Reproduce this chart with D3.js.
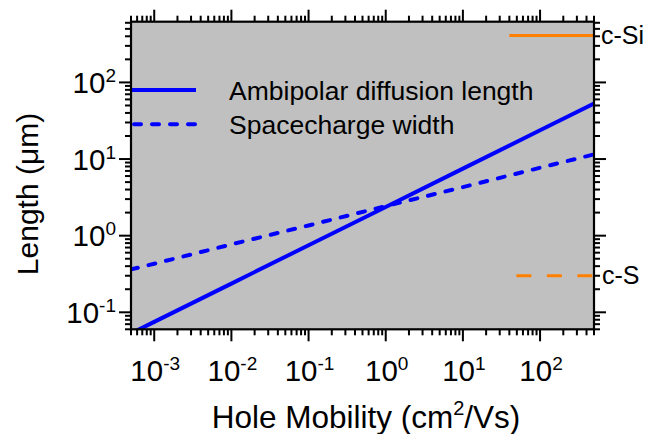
<!DOCTYPE html>
<html>
<head>
<meta charset="utf-8">
<script src="https://cdn.jsdelivr.net/npm/d3@7"></script>
<style>
  html, body { margin: 0; padding: 0; background: #fff; }
  svg { display: block; font-family: "Liberation Sans", Arial, Helvetica, sans-serif; }
</style>
</head>
<body>
<svg id="chart" width="647" height="434"></svg>
<script>
// ---- data ----
const mobility = [5e-4, 1e-3, 1e-2, 1e-1, 1, 10, 100, 500];          // cm^2/Vs
const ambipolarLength = [0.053, 0.075, 0.237, 0.75, 2.37, 7.5, 23.7, 53]; // µm
const spacechargeWidth = [0.363, 0.43, 0.77, 1.36, 2.43, 4.3, 7.7, 11.5]; // µm
const cSiMobility = [40, 500];
const cSiDiffusionLength = [410, 410];
const cSiSpacechargeWidth = [0.3, 0.3];
const xTickExponents = [-3, -2, -1, 0, 1, 2];
const yTickExponents = [-1, 0, 1, 2];
const legendLabels = ["Ambipolar diffusion length", "Spacecharge width"];
const refLabels = ["c-Si", "c-S"];

// ---- layout ----
const svg = d3.select("#chart");
const L = 131, R = 594, T = 21.7, B = 329.3;
const x = d3.scaleLog().domain([5e-4, 500]).range([L, R]);
const y = d3.scaleLog().domain([0.06, 620]).range([B, T]);
const blue = "#0000ff", orange = "#ff8000";

svg.append("rect").attr("x", L).attr("y", T).attr("width", R - L).attr("height", B - T)
  .attr("fill", "#c0c0c0");

svg.append("defs").append("clipPath").attr("id", "clip")
  .append("rect").attr("x", L).attr("y", T).attr("width", R - L).attr("height", B - T);

const plot = svg.append("g").attr("clip-path", "url(#clip)");

const line = d3.line().x(d => x(d[0])).y(d => y(d[1]));

plot.append("path").datum(mobility.map((m, i) => [m, ambipolarLength[i]]))
  .attr("d", line).attr("fill", "none").attr("stroke", blue).attr("stroke-width", 4);
plot.append("path").datum(mobility.map((m, i) => [m, spacechargeWidth[i]]))
  .attr("d", line).attr("fill", "none").attr("stroke", blue).attr("stroke-width", 4)
  .attr("stroke-linecap", "round").attr("stroke-dasharray", "7,11");

plot.append("path").datum(cSiMobility.map((m, i) => [m, cSiDiffusionLength[i]]))
  .attr("d", line).attr("fill", "none").attr("stroke", orange).attr("stroke-width", 3);
plot.append("path").datum(cSiMobility.map((m, i) => [m, cSiSpacechargeWidth[i]]))
  .attr("d", line).attr("fill", "none").attr("stroke", orange).attr("stroke-width", 3)
  .attr("stroke-dasharray", "15,15.5").attr("stroke-dashoffset", 23.5);

// ---- legend ----
const legY = [90, 124.3];
legendLabels.forEach((lab, i) => {
  svg.append("line").attr("x1", L + 1).attr("x2", 196).attr("y1", legY[i]).attr("y2", legY[i])
    .attr("stroke", blue).attr("stroke-width", 4)
    .attr("stroke-linecap", i ? "round" : "butt")
    .attr("stroke-dasharray", i ? "7,11" : null)
    .attr("stroke-dashoffset", i ? -2 : null);
  svg.append("text").attr("x", 229).attr("y", legY[i] + 9.5)
    .attr("font-size", 26.5).attr("fill", "#000").text(lab);
});

// ---- ticks ----
function minorTicks(scale) {
  const [a, b] = scale.domain();
  const out = [];
  for (let e = Math.floor(Math.log10(a)); e <= Math.ceil(Math.log10(b)); e++) {
    for (let k = 1; k <= 9; k++) {
      const v = k * Math.pow(10, e);
      if (v >= a * 0.999 && v <= b * 1.001) out.push({ v, major: k === 1 });
    }
  }
  return out;
}
const axisG = svg.append("g").attr("stroke", "#000").attr("stroke-width", 2);
minorTicks(x).forEach(t => {
  const px = x(t.v), len = t.major ? 12 : 6;
  axisG.append("line").attr("x1", px).attr("x2", px).attr("y1", B).attr("y2", B + len);
  axisG.append("line").attr("x1", px).attr("x2", px).attr("y1", T).attr("y2", T - len);
});
minorTicks(y).forEach(t => {
  const py = y(t.v), len = t.major ? 12 : 6;
  axisG.append("line").attr("y1", py).attr("y2", py).attr("x1", L).attr("x2", L - len);
  axisG.append("line").attr("y1", py).attr("y2", py).attr("x1", R).attr("x2", R + len);
});
svg.append("rect").attr("x", L).attr("y", T).attr("width", R - L).attr("height", B - T)
  .attr("fill", "none").attr("stroke", "#000").attr("stroke-width", 2.2);

// ---- tick labels ----
xTickExponents.forEach(e => {
  const t = svg.append("text").attr("x", x(Math.pow(10, e)) + 1).attr("y", 381)
    .attr("text-anchor", "middle").attr("font-size", 29.5).attr("fill", "#000");
  t.append("tspan").text("10");
  t.append("tspan").attr("font-size", 19).attr("dy", -11).text(e);
});
yTickExponents.forEach(e => {
  const t = svg.append("text").attr("x", 116).attr("y", y(Math.pow(10, e)) + 10.5)
    .attr("text-anchor", "end").attr("font-size", 29.5).attr("fill", "#000");
  t.append("tspan").text("10");
  t.append("tspan").attr("font-size", 19).attr("dy", -11).text(e);
});

// ---- reference labels ----
[cSiDiffusionLength[0], cSiSpacechargeWidth[0]].forEach((v, i) => {
  svg.append("text").attr("x", 601 + i * 1).attr("y", y(v) + 8.5)
    .attr("font-size", 25).attr("fill", "#000").text(refLabels[i]);
});

// ---- axis titles ----
const xt = svg.append("text").attr("x", 366).attr("y", 428).attr("text-anchor", "middle")
  .attr("font-size", 31.5).attr("fill", "#000");
xt.append("tspan").text("Hole Mobility (cm");
xt.append("tspan").attr("font-size", 20).attr("dy", -13).text("2");
xt.append("tspan").attr("dy", 13).text("/Vs)");

svg.append("text").attr("transform", "translate(37.5,194) rotate(-90)")
  .attr("text-anchor", "middle").attr("font-size", 30).attr("fill", "#000")
  .text("Length (μm)");
</script>
</body>
</html>
